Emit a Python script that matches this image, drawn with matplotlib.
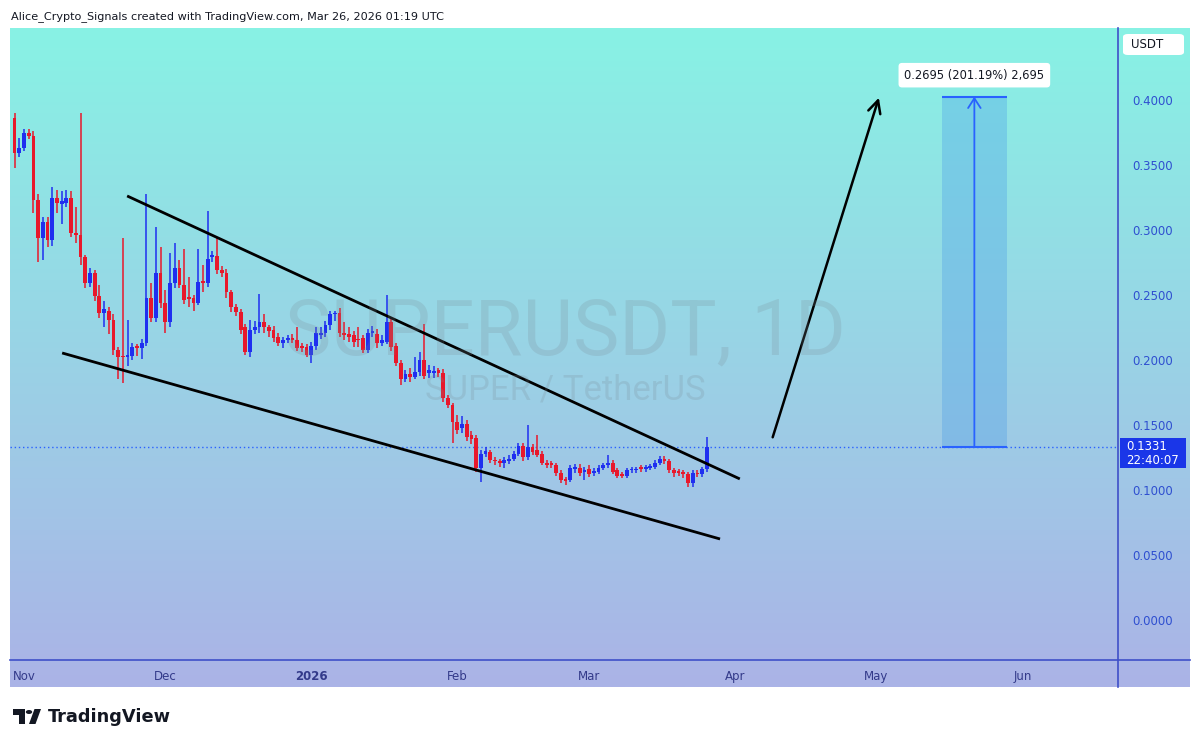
import numpy as np
import pandas as pd
import matplotlib
matplotlib.use("Agg")
import matplotlib.pyplot as plt
from matplotlib.patches import Rectangle, FancyBboxPatch, Circle, Polygon

# daily SUPERUSDT candles, 2025-10-30 .. 2026-03-26
start = "2025-10-30"
opens = [0.386, 0.359, 0.363, 0.375, 0.372, 0.323, 0.294, 0.306, 0.292, 0.325,
         0.320, 0.321, 0.325, 0.298, 0.296, 0.279, 0.259, 0.267, 0.249, 0.236,
         0.238, 0.231, 0.208, 0.203, 0.202, 0.203, 0.210, 0.209, 0.213, 0.248,
         0.232, 0.267, 0.244, 0.229, 0.259, 0.271, 0.258, 0.248, 0.248, 0.244,
         0.261, 0.259, 0.279, 0.280, 0.269, 0.267, 0.252, 0.241, 0.237, 0.225,
         0.206, 0.223, 0.225, 0.229, 0.225, 0.223, 0.218, 0.213, 0.215, 0.217,
         0.215, 0.210, 0.210, 0.204, 0.211, 0.219, 0.221, 0.227, 0.235, 0.236,
         0.221, 0.220, 0.219, 0.216, 0.217, 0.208, 0.221, 0.220, 0.213, 0.214,
         0.229, 0.211, 0.198, 0.185, 0.189, 0.187, 0.191, 0.200, 0.190, 0.190,
         0.192, 0.190, 0.171, 0.165, 0.152, 0.148, 0.151, 0.142, 0.140, 0.117,
         0.128, 0.129, 0.123, 0.122, 0.121, 0.122, 0.124, 0.128, 0.134, 0.125,
         0.133, 0.131, 0.128, 0.121, 0.121, 0.119, 0.113, 0.108, 0.108, 0.116,
         0.117, 0.114, 0.116, 0.113, 0.114, 0.117, 0.119, 0.121, 0.115, 0.112,
         0.111, 0.115, 0.115, 0.117, 0.116, 0.117, 0.118, 0.121, 0.124, 0.122,
         0.115, 0.114, 0.114, 0.112, 0.105, 0.113, 0.112, 0.116]
highs = [0.390, 0.371, 0.378, 0.378, 0.376, 0.328, 0.310, 0.310, 0.333, 0.331,
         0.330, 0.331, 0.330, 0.318, 0.390, 0.281, 0.271, 0.269, 0.258, 0.245,
         0.241, 0.235, 0.210, 0.294, 0.231, 0.213, 0.212, 0.216, 0.328, 0.259,
         0.302, 0.287, 0.254, 0.282, 0.290, 0.277, 0.285, 0.264, 0.250, 0.285,
         0.273, 0.315, 0.284, 0.294, 0.272, 0.270, 0.254, 0.243, 0.239, 0.228,
         0.231, 0.230, 0.251, 0.235, 0.227, 0.226, 0.221, 0.218, 0.219, 0.220,
         0.225, 0.213, 0.212, 0.214, 0.225, 0.225, 0.230, 0.238, 0.238, 0.240,
         0.229, 0.225, 0.222, 0.225, 0.219, 0.224, 0.226, 0.224, 0.219, 0.250,
         0.232, 0.213, 0.200, 0.192, 0.194, 0.202, 0.206, 0.228, 0.196, 0.195,
         0.194, 0.193, 0.173, 0.167, 0.158, 0.157, 0.154, 0.145, 0.142, 0.131,
         0.133, 0.131, 0.125, 0.124, 0.125, 0.127, 0.130, 0.136, 0.136, 0.150,
         0.135, 0.142, 0.130, 0.123, 0.122, 0.121, 0.115, 0.110, 0.119, 0.120,
         0.120, 0.118, 0.119, 0.117, 0.119, 0.121, 0.127, 0.123, 0.117, 0.114,
         0.117, 0.118, 0.118, 0.119, 0.119, 0.120, 0.123, 0.126, 0.126, 0.124,
         0.117, 0.116, 0.115, 0.114, 0.115, 0.115, 0.118, 0.141]
lows = [0.348, 0.356, 0.361, 0.370, 0.313, 0.275, 0.277, 0.287, 0.288, 0.313,
        0.305, 0.318, 0.295, 0.290, 0.273, 0.255, 0.256, 0.245, 0.232, 0.225,
        0.220, 0.204, 0.185, 0.182, 0.195, 0.200, 0.203, 0.201, 0.211, 0.229,
        0.229, 0.240, 0.221, 0.225, 0.255, 0.255, 0.243, 0.241, 0.238, 0.242,
        0.252, 0.256, 0.275, 0.266, 0.264, 0.248, 0.237, 0.234, 0.220, 0.204,
        0.202, 0.220, 0.221, 0.221, 0.218, 0.214, 0.211, 0.209, 0.213, 0.213,
        0.207, 0.206, 0.202, 0.198, 0.208, 0.216, 0.218, 0.223, 0.230, 0.218,
        0.215, 0.214, 0.210, 0.210, 0.205, 0.205, 0.218, 0.209, 0.211, 0.212,
        0.207, 0.195, 0.181, 0.183, 0.183, 0.185, 0.188, 0.185, 0.186, 0.186,
        0.187, 0.168, 0.163, 0.136, 0.143, 0.144, 0.138, 0.135, 0.114, 0.106,
        0.125, 0.121, 0.119, 0.118, 0.117, 0.120, 0.122, 0.126, 0.122, 0.123,
        0.127, 0.125, 0.119, 0.117, 0.117, 0.111, 0.105, 0.104, 0.106, 0.113,
        0.111, 0.108, 0.110, 0.111, 0.112, 0.115, 0.117, 0.112, 0.109, 0.109,
        0.109, 0.113, 0.113, 0.114, 0.114, 0.115, 0.116, 0.119, 0.120, 0.113,
        0.110, 0.111, 0.109, 0.102, 0.102, 0.110, 0.110, 0.114]
closes = [0.359, 0.363, 0.375, 0.372, 0.323, 0.294, 0.306, 0.292, 0.325, 0.321,
          0.322, 0.325, 0.298, 0.296, 0.279, 0.259, 0.267, 0.249, 0.236, 0.239,
          0.231, 0.208, 0.202, 0.202, 0.204, 0.210, 0.209, 0.213, 0.248, 0.232,
          0.267, 0.244, 0.229, 0.259, 0.271, 0.258, 0.246, 0.247, 0.244, 0.260,
          0.259, 0.278, 0.281, 0.269, 0.267, 0.252, 0.241, 0.237, 0.223, 0.206,
          0.223, 0.225, 0.229, 0.225, 0.222, 0.217, 0.213, 0.215, 0.217, 0.215,
          0.209, 0.209, 0.204, 0.211, 0.221, 0.221, 0.227, 0.235, 0.236, 0.221,
          0.219, 0.218, 0.214, 0.215, 0.208, 0.221, 0.222, 0.213, 0.215, 0.229,
          0.210, 0.198, 0.185, 0.189, 0.187, 0.191, 0.200, 0.188, 0.192, 0.191,
          0.190, 0.171, 0.165, 0.152, 0.146, 0.151, 0.141, 0.139, 0.117, 0.128,
          0.130, 0.123, 0.122, 0.121, 0.123, 0.124, 0.128, 0.134, 0.125, 0.133,
          0.129, 0.127, 0.121, 0.119, 0.119, 0.113, 0.108, 0.107, 0.117, 0.117,
          0.113, 0.115, 0.112, 0.114, 0.117, 0.119, 0.121, 0.114, 0.111, 0.111,
          0.115, 0.116, 0.116, 0.116, 0.117, 0.118, 0.121, 0.124, 0.122, 0.115,
          0.113, 0.113, 0.112, 0.105, 0.113, 0.112, 0.116, 0.1331]

last_price = 0.1331
target_gain = 0.2695
gain_label = "0.2695 (201.19%) 2,695"
price_ticks = [0.0, 0.05, 0.10, 0.15, 0.20, 0.25, 0.30, 0.35, 0.40]
month_starts = ["2025-11-01", "2025-12-01", "2026-01-01", "2026-02-01",
                "2026-03-01", "2026-04-01", "2026-05-01", "2026-06-01"]
month_labels = ["Nov", "Dec", "2026", "Feb", "Mar", "Apr", "May", "Jun"]

# drawings (x in days since 2025-11-01)
upper_line = ([21.9, 152.0], [0.3262, 0.1085])
lower_line = ([8.1, 147.8], [0.2054, 0.0623])
arrow_from = (158.8, 0.1385)
arrow_to = (181.7, 0.4038)
target_box_days = (194.9, 208.7)

W, H = 1200, 747
BULL = "#1f2ff0"
BEAR = "#e8182b"
AXIS_BLUE = "#3f4fc9"

origin = pd.Timestamp("2025-11-01")
days = np.array([(d - origin).days for d in pd.date_range(start, periods=len(opens))])
month_x = [(pd.Timestamp(m) - origin).days for m in month_starts]


def fx(px):
    return px / W


def fy(py):
    return 1 - py / H


fig = plt.figure(figsize=(12, 7.47), dpi=100)
fig.patch.set_facecolor("white")

# gradient background behind the chart + price scale
bg = fig.add_axes([fx(10), fy(687), fx(1180), 659 / H])
top = np.array([0x88, 0xf2, 0xe4]) / 255
bot = np.array([0xab, 0xb3, 0xe7]) / 255
t = np.linspace(0, 1, 256)[:, None]
grad = (1 - t) * top + t * bot
bg.imshow(grad[:, None, :].repeat(2, axis=1), aspect="auto", extent=[0, 1, 0, 1])
bg.set_axis_off()

ax = fig.add_axes([fx(10), fy(660), fx(1108), 632 / H])
ax.set_facecolor("none")
ax.set_xlim(-2.97, 232.3)
ax.set_ylim(-0.0308, 0.4554)

# watermark
fig.text(fx(565), fy(333), "SUPERUSDT, 1D", fontsize=56, family="Roboto",
         color="#7a8a95", alpha=0.22, ha="center", va="center")
fig.text(fx(565), fy(390), "SUPER / TetherUS", fontsize=25, family="Roboto",
         color="#7a8a95", alpha=0.22, ha="center", va="center")

# candles
o = np.array(opens)
c = np.array(closes)
up = c >= o
colors = np.where(up, BULL, BEAR)
ax.vlines(days, lows, highs, colors=colors, lw=1.1, zorder=3)
body_low = np.minimum(o, c)
body_h = np.maximum(np.abs(c - o), 0.0014)
ax.bar(days, body_h, bottom=body_low, width=0.8, color=colors, zorder=4, linewidth=0)

# wedge trendlines
ax.plot(*upper_line, color="black", lw=2.0, zorder=5, solid_capstyle="butt")
ax.plot(*lower_line, color="black", lw=2.0, zorder=5, solid_capstyle="butt")
ax.annotate("", xy=arrow_to, xytext=arrow_from,
            arrowprops=dict(arrowstyle="->,head_length=0.9,head_width=0.45",
                            color="black", lw=1.8), zorder=5)

# current price line
ax.axhline(last_price, color="#2962ff", lw=1, ls=(0, (1, 2)), zorder=2)

# target measurement box
x0, x1 = target_box_days
ax.add_patch(Rectangle((x0, last_price), x1 - x0, target_gain,
                       facecolor="#4a9be8", alpha=0.33, edgecolor="none", zorder=2))
ax.hlines([last_price, last_price + target_gain], x0, x1, color="#2962ff", lw=1.5, zorder=3)
ax.annotate("", xy=((x0 + x1) / 2, last_price + target_gain),
            xytext=((x0 + x1) / 2, last_price),
            arrowprops=dict(arrowstyle="->,head_length=0.7,head_width=0.45",
                            color="#2962ff", lw=1.3, shrinkA=0, shrinkB=0), zorder=3)
ax.text((x0 + x1) / 2, last_price + target_gain + 0.0165, gain_label,
        ha="center", va="center", fontsize=8.3, color="#131722", zorder=6,
        bbox=dict(boxstyle="round,pad=0.5,rounding_size=0.3", fc="white", ec="none"))

# axes styling
for s in ["top", "left", "right", "bottom"]:
    ax.spines[s].set_visible(False)
ax.yaxis.tick_right()
ax.set_yticks(price_ticks)
ax.set_yticklabels([f"{v:.4f}" for v in price_ticks])
ax.tick_params(axis="y", length=0, pad=10, labelsize=8.5, labelcolor="#2f4fd0")
ax.set_xticks(month_x)
ax.set_xticklabels(month_labels)
ax.tick_params(axis="x", length=0, pad=7, labelsize=8.5, labelcolor="#333a8a")
for lbl in ax.get_xticklabels():
    if lbl.get_text() == "2026":
        lbl.set_fontweight("bold")

# scale borders
fig.add_artist(plt.Line2D([fx(1118), fx(1118)], [fy(28), fy(687)], color=AXIS_BLUE, lw=1.2))
fig.add_artist(plt.Line2D([fx(10), fx(1190)], [fy(660), fy(660)], color=AXIS_BLUE, lw=1.2))

# last price tag and currency box
fig.add_artist(Rectangle((fx(1120), fy(468)), fx(66), 30 / H, facecolor="#1a36e8",
                         edgecolor="none", transform=fig.transFigure))
fig.text(fx(1126), fy(446), "0.1331", fontsize=8.5, color="white", va="center")
fig.text(fx(1126), fy(461), "22:40:07", fontsize=8.5, color="white", va="center")
fig.add_artist(FancyBboxPatch((fx(1123), fy(55)), fx(61), 21 / H,
                              boxstyle="round,pad=0,rounding_size=0.004",
                              facecolor="white", edgecolor="none", transform=fig.transFigure))
fig.text(fx(1147), fy(44), "USDT", fontsize=8.5, color="#131722", ha="center", va="center")

# header and footer
fig.text(fx(11), fy(17), "Alice_Crypto_Signals created with TradingView.com, Mar 26, 2026 01:19 UTC",
         fontsize=8.1, color="#131722", va="center")
fig.add_artist(Polygon([(fx(12.5), fy(709)), (fx(25), fy(709)), (fx(25), fy(724)),
                        (fx(18.5), fy(724)), (fx(18.5), fy(715)), (fx(12.5), fy(715))],
                       closed=True, facecolor="#131722", transform=fig.transFigure))
fig.add_artist(Circle((fx(29), fy(712)), 3.2 / W, facecolor="#131722",
                      transform=fig.transFigure))
fig.add_artist(Polygon([(fx(34.5), fy(709)), (fx(41), fy(709)), (fx(35.5), fy(724)),
                        (fx(29), fy(724))],
                       closed=True, facecolor="#131722", transform=fig.transFigure))
fig.text(fx(48), fy(717), "TradingView", fontsize=12.8, fontweight="bold",
         color="#131722", va="center")

fig.savefig("out.png", dpi=100)
